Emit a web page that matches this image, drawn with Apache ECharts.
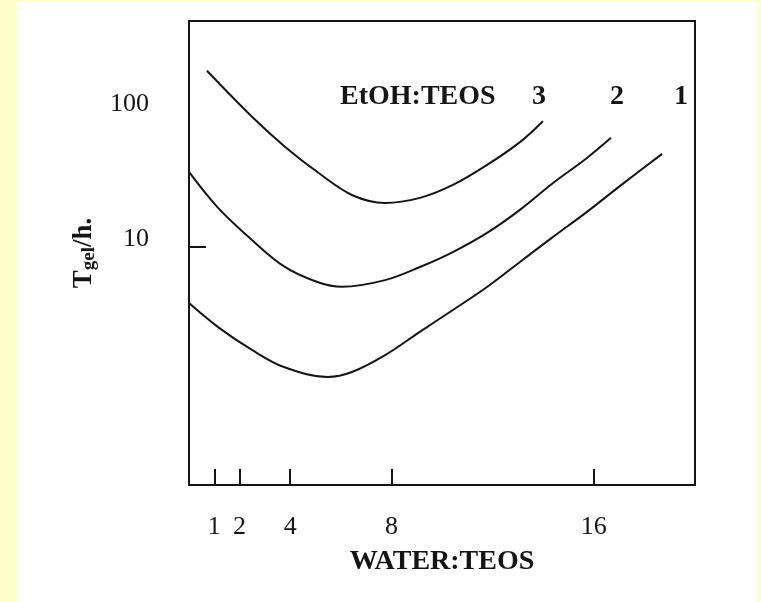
<!DOCTYPE html>
<html>
<head>
<meta charset="utf-8">
<script src="https://cdn.jsdelivr.net/npm/echarts@6/dist/echarts.min.js"></script>
<style>
  html, body { margin: 0; padding: 0; background: #FFFFCC; }
  #paper { position: absolute; left: 17px; top: 2px; width: 740px; height: 600px; background: #ffffff; }
  #chart { position: absolute; left: 0; top: 0; width: 761px; height: 602px; }
</style>
</head>
<body>
<div id="paper"></div>
<div id="chart"></div>
<script>
// Water:TEOS ratio (x) and gel time in hours (y), one curve per EtOH:TEOS ratio
const xTicks = [1, 2, 4, 8, 16];
const yLabels = [10, 100];
const yTicks = [10];

const water3 = [0.71, 2.49, 3.79, 5.10, 6.44, 7.75, 9.13, 10.43, 11.78, 13.08, 13.99];
const tgel3  = [181, 85, 52, 34, 23.5, 20.6, 22.4, 27.7, 38.5, 56, 79];

const water2 = [0, 1.15, 2.49, 3.79, 5.10, 6.05, 7.75, 9.13, 10.43, 11.78, 13.08, 14.39, 15.73, 16.68];
const tgel2  = [34.3, 19.0, 11.2, 7.2, 5.6, 5.2, 5.8, 7.2, 9.2, 12.6, 18.4, 28.6, 43.2, 60.1];

const water1 = [0, 1.15, 2.49, 3.75, 5.49, 6.44, 7.75, 9.05, 10.43, 11.78, 13.08, 14.39, 15.73, 17.04, 18.70];
const tgel1  = [3.98, 2.68, 1.84, 1.39, 1.18, 1.28, 1.69, 2.43, 3.55, 5.18, 7.81, 11.8, 17.8, 27.3, 46.2];

const ratioLabels = ['3', '2', '1'];
const legendTitle = 'EtOH:TEOS';

const pairs = (xs, ys) => xs.map((x, i) => [x, ys[i]]);
const serif = '"Liberation Serif", "DejaVu Serif", serif';
const ink = '#151515';

const chart = echarts.init(document.getElementById('chart'), null, { renderer: 'canvas' });

function curve(name, xs, ys) {
  return {
    name: name, type: 'line', data: pairs(xs, ys),
    smooth: 0.35, symbol: 'none',
    lineStyle: { color: ink, width: 2 },
    silent: true
  };
}

chart.setOption({
  backgroundColor: 'transparent',
  animation: false,
  grid: {
    left: 189, top: 21, right: 66, bottom: 117,
    show: true, borderColor: ink, borderWidth: 2, backgroundColor: 'transparent'
  },
  xAxis: {
    type: 'value', min: 0, max: 20,
    axisLine: { show: true, lineStyle: { color: ink, width: 2 } },
    axisTick: { show: true, inside: true, length: 16, customValues: xTicks, lineStyle: { color: ink, width: 2 } },
    axisLabel: { customValues: xTicks, color: ink, fontFamily: serif, fontSize: 26, margin: 29 },
    splitLine: { show: false },
    name: 'WATER:TEOS', nameLocation: 'middle', nameGap: 63,
    nameTextStyle: { color: ink, fontFamily: serif, fontWeight: 'bold', fontSize: 28 }
  },
  yAxis: {
    type: 'log', logBase: 10, min: 0.2, max: 410,
    axisLine: { show: true, lineStyle: { color: ink, width: 2 } },
    axisTick: { show: true, inside: true, length: 17, customValues: yTicks, lineStyle: { color: ink, width: 2 } },
    axisLabel: {
      customValues: yLabels, color: ink, fontFamily: serif, fontSize: 26, margin: 40,
      formatter: function (v) { return v >= 100 ? '{a|' + v + '}' : '{b|' + v + '}'; },
      rich: {
        a: { fontFamily: serif, fontSize: 26, color: ink, padding: [0, 0, 6, 0] },
        b: { fontFamily: serif, fontSize: 26, color: ink, padding: [0, 0, 16, 0] }
      }
    },
    splitLine: { show: false },
    minorTick: { show: false },
    name: '{t|T}{s|gel}{n|/h.}', nameLocation: 'middle', nameRotate: 90, nameGap: 90,
    nameTextStyle: {
      rich: {
        t: { fontFamily: serif, fontWeight: 'bold', fontSize: 27, color: ink, verticalAlign: 'top', lineHeight: 28 },
        s: { fontFamily: serif, fontWeight: 'bold', fontSize: 19, color: ink, verticalAlign: 'bottom', lineHeight: 20, padding: [12, 0, 0, 0] },
        n: { fontFamily: serif, fontWeight: 'bold', fontSize: 27, color: ink, verticalAlign: 'top', lineHeight: 28 }
      }
    }
  },
  graphic: [
    { type: 'text', left: 340, top: 83, style: { text: legendTitle, fill: ink, font: 'bold 28px ' + serif } },
    { type: 'text', left: 532, top: 83, style: { text: ratioLabels[0], fill: ink, font: 'bold 28px ' + serif } },
    { type: 'text', left: 610, top: 83, style: { text: ratioLabels[1], fill: ink, font: 'bold 28px ' + serif } },
    { type: 'text', left: 674, top: 83, style: { text: ratioLabels[2], fill: ink, font: 'bold 28px ' + serif } }
  ],
  series: [
    curve('3', water3, tgel3),
    curve('2', water2, tgel2),
    curve('1', water1, tgel1)
  ]
});
</script>
</body>
</html>
